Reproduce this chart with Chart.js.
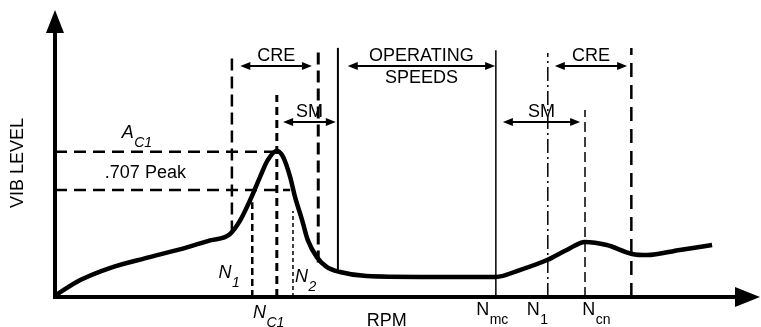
<!DOCTYPE html>
<html>
<head>
<meta charset="utf-8">
<script src="https://cdn.jsdelivr.net/npm/chart.js@4/dist/chart.umd.min.js"></script>
<style>
  html, body { margin: 0; padding: 0; background: #fff; }
  #wrap { width: 761px; height: 327px; }
  canvas { display: block; }
</style>
</head>
<body>
<div id="wrap"><canvas id="c" width="761" height="327"></canvas></div>
<script>
// ---- data (RPM and vibration level in arbitrary units, 0-100) ----
const curveRpm = [0, 3.6, 7.8, 13.5, 18.8, 22.1, 24.9, 26.4, 27.8, 29.2, 30.3, 31.6, 32.5, 33.5, 34.2, 35.2, 36.0, 37.3, 38.7, 40.6, 44.4, 52.0, 62.8, 66.2, 70.1, 72.9, 75.5, 78.6, 82.2, 84.3, 89.0, 93.6];
const curveVib = [0.5, 5.9, 10.1, 13.9, 17.3, 19.7, 21.9, 26.8, 33.8, 41.8, 47.7, 51.0, 48.8, 41.8, 34.8, 26.8, 19.9, 13.9, 10.5, 8.7, 7.3, 7.0, 7.0, 9.4, 12.9, 16.4, 19.2, 18.1, 15.0, 14.6, 16.4, 18.1];

// vertical reference lines: CRE-left, CRE-right, N_C1, op-speed start, N1, N2, N_mc, N1', N_cn, CRE-right'
const vlineRpm    = [25.2, 37.5, 31.6, 40.3, 28.1, 33.9, 62.8, 70.2, 75.5, 82.1];
const vlineTop    = [84.3, 85.4, 70.4, 86.8, 33.0, 30.0, 86.0, 85.0, 65.2, 86.8];
const vlineBottom = [22.5, 12.0, 0, 8.8, 0, 0, 0, 0, 0, 0];

// horizontal reference levels: A_C1 (peak) and .707 peak
const levelVib = [50.6, 37.3];
const levelEnd = [31.6, 33.5];

// range arrows
const rangeLabels = [["CRE"], ["SM"], ["OPERATING", "SPEEDS"], ["SM"], ["CRE"]];
const rangeFrom   = [26.4, 32.5, 41.7, 63.8, 71.2];
const rangeTo     = [36.6, 40.0, 62.7, 74.8, 81.5];
const rangeVib    = [80.5, 61.0, 80.5, 61.0, 80.5];

// axis tick labels
const tickMain = ["N", "N", "N", "N"];
const tickSub  = ["C1", "mc", "1", "cn"];
const tickRpm  = [28.2, 60.0, 67.2, 75.1];
const tickItalic = [true, false, false, false];

// ---- styles (kept apart from the data) ----
const vlineStyle = [
  {w: 2.5, dash: [12, 6]},
  {w: 3,   dash: [12, 6]},
  {w: 3,   dash: [8, 5]},
  {w: 2,   dash: []},
  {w: 2.5, dash: [7, 4]},
  {w: 1.5, dash: [4, 3]},
  {w: 1.5, dash: []},
  {w: 1.5, dash: [14, 4, 2, 4]},
  {w: 1.5, dash: [10, 5]},
  {w: 2.5, dash: [14, 8]}
];
const FONT = '"Liberation Sans", Arial, Helvetica, sans-serif';
const FS = 18;

const datasets = [];
datasets.push({
  label: 'vib',
  data: curveRpm.map((x, i) => ({x: x, y: curveVib[i]})),
  showLine: true, borderColor: '#000', borderWidth: 4.5,
  pointRadius: 0, cubicInterpolationMode: 'monotone', fill: false, clip: false, order: 0
});
vlineRpm.forEach((x, i) => {
  datasets.push({
    data: [{x: x, y: vlineBottom[i]}, {x: x, y: vlineTop[i]}],
    showLine: true, borderColor: '#000', borderWidth: vlineStyle[i].w,
    borderDash: vlineStyle[i].dash, pointRadius: 0, clip: false, order: 2
  });
});
levelVib.forEach((v, i) => {
  datasets.push({
    data: [{x: 0, y: v}, {x: levelEnd[i], y: v}],
    showLine: true, borderColor: '#000', borderWidth: 2.5,
    borderDash: [12, 7], pointRadius: 0, clip: false, order: 2
  });
});

function arrowHead(ctx, x, y, dir, len, half) {
  ctx.beginPath();
  ctx.moveTo(x, y);
  if (dir === 'left' || dir === 'right') {
    const s = dir === 'right' ? -1 : 1;
    ctx.lineTo(x + s * len, y - half);
    ctx.lineTo(x + s * len, y + half);
  } else {
    const s = dir === 'down' ? -1 : 1;
    ctx.lineTo(x - half, y + s * len);
    ctx.lineTo(x + half, y + s * len);
  }
  ctx.closePath();
  ctx.fill();
}

function textWithSub(ctx, main, sub, x, y, size, italic) {
  const st = italic ? 'italic ' : '';
  ctx.font = st + size + 'px ' + FONT;
  ctx.textAlign = 'left';
  ctx.textBaseline = 'alphabetic';
  ctx.fillText(main, x, y);
  const w = ctx.measureText(main).width;
  if (sub) {
    ctx.font = st + Math.round(size * 0.8) + 'px ' + FONT;
    ctx.fillText(sub, x + w + 0.5, y + 9);
  }
}

const overlay = {
  id: 'overlay',
  afterDatasetsDraw(chart) {
    const ctx = chart.ctx;
    const xs = chart.scales.x, ys = chart.scales.y;
    const X = v => xs.getPixelForValue(v), Y = v => ys.getPixelForValue(v);
    ctx.save();
    ctx.fillStyle = '#000';
    ctx.strokeStyle = '#000';
    ctx.setLineDash([]);
    // axes
    const x0 = X(0), y0 = Y(0), yTop = Y(100), xEnd = xs.right + 3;
    ctx.lineWidth = 4;
    ctx.beginPath();
    ctx.moveTo(x0, y0 + 2); ctx.lineTo(x0, yTop + 15);
    ctx.moveTo(x0 - 2, y0); ctx.lineTo(xEnd - 18, y0);
    ctx.stroke();
    arrowHead(ctx, x0, yTop, 'up', 23, 9);
    arrowHead(ctx, xEnd, y0, 'right', 25, 10);

    // range arrows
    ctx.lineWidth = 2;
    rangeLabels.forEach((lab, i) => {
      const a = X(rangeFrom[i]), b = X(rangeTo[i]), y = Y(rangeVib[i]);
      ctx.beginPath(); ctx.moveTo(a + 5, y); ctx.lineTo(b - 5, y); ctx.stroke();
      arrowHead(ctx, a, y, 'left', 10, 4);
      arrowHead(ctx, b, y, 'right', 10, 4);
      ctx.font = FS + 'px ' + FONT;
      ctx.textAlign = 'center';
      ctx.textBaseline = 'alphabetic';
      const cx = (a + b) / 2;
      ctx.fillText(lab[0], cx, y - 5);
      if (lab[1]) ctx.fillText(lab[1], cx, y + 17);
    });

    // axis tick labels
    tickMain.forEach((t, i) => {
      textWithSub(ctx, t, tickSub[i], X(tickRpm[i]), Y(-6.3) + (tickItalic[i] ? 3 : 0), FS, tickItalic[i]);
    });

    // other annotations
    textWithSub(ctx, 'A', 'C1', X(9.5), Y(55.4), FS, true);
    textWithSub(ctx, 'N', '1', X(23.3), Y(6.6), FS, true);
    textWithSub(ctx, 'N', '2', X(34.2), Y(5.2), FS, true);
    ctx.font = FS + 'px ' + FONT;
    ctx.textAlign = 'left';
    ctx.fillText('.707 Peak', X(7.1), Y(41.5));
    ctx.fillText('RPM', X(44.4), Y(-10.2));
    // y title
    ctx.save();
    ctx.translate(X(-5.56) + 7, Y(46.7));
    ctx.rotate(-Math.PI / 2);
    ctx.textAlign = 'center';
    ctx.fillText('VIB LEVEL', 0, 0);
    ctx.restore();
    ctx.restore();
  }
};

new Chart(document.getElementById('c'), {
  type: 'scatter',
  data: { datasets: datasets },
  options: {
    responsive: false,
    animation: false,
    devicePixelRatio: 1,
    layout: { padding: { left: 55, right: 4, top: 10, bottom: 30 } },
    plugins: { legend: { display: false }, tooltip: { enabled: false } },
    scales: {
      x: { type: 'linear', min: 0, max: 100, display: false },
      y: { type: 'linear', min: 0, max: 100, display: false }
    }
  },
  plugins: [overlay]
});
</script>
</body>
</html>
